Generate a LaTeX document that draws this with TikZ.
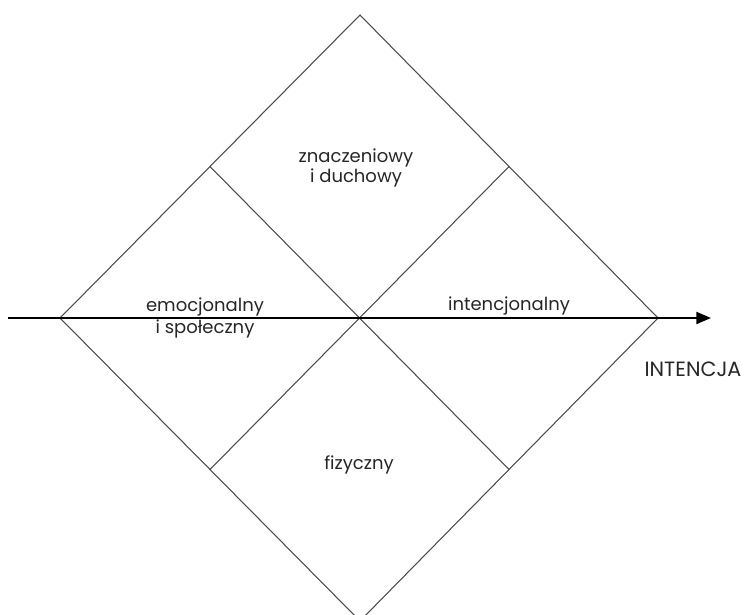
\documentclass[tikz,border=0pt]{standalone}
\usepackage{fontspec}
\setmainfont{Poppins}
\usetikzlibrary{arrows.meta}
\begin{document}
\begin{tikzpicture}[x=0.75pt,y=-0.75pt,
  frame/.style={draw=black!70,line width=0.8pt},
  axis/.style={draw=black,line width=1.5pt,-{Triangle[length=11pt,width=9pt]}},
  lbl/.style={font=\fontsize{13.5pt}{16pt}\selectfont,inner sep=0pt,anchor=base,text=black!85},
  axlbl/.style={font=\fontsize{15.5pt}{18pt}\selectfont,inner sep=0pt,anchor=base,text=black!85}]
\useasboundingbox (0,0) rectangle (745,614);
\clip (0,0) rectangle (745,614);
% outer diamond
\coordinate (T) at (360,15);
\coordinate (L) at (60,318);
\coordinate (R) at (658,318);
\coordinate (B) at (360,621);
% edge midpoints
\path (T) -- (L) coordinate[pos=0.5] (mTL);
\path (T) -- (R) coordinate[pos=0.5] (mTR);
\path (B) -- (L) coordinate[pos=0.5] (mBL);
\path (B) -- (R) coordinate[pos=0.5] (mBR);
\draw[frame] (T) -- (R) -- (B) -- (L) -- cycle;
\draw[frame] (mTL) -- (mBR);
\draw[frame] (mTR) -- (mBL);
% horizontal axis
\coordinate (A0) at (8,318);
\coordinate (A1) at (711,318);
\draw[axis] (A0) -- (A1);
% region labels
\node[lbl] (sensA) at (356,162) {znaczeniowy};
\node[lbl] (sensB) at (356,182) {i duchowy};
\node[lbl] (emoA) at (205,311) {emocjonalny};
\node[lbl] (emoB) at (205,333) {i społeczny};
\node[lbl] (int) at (509,310) {intencjonalny};
\node[lbl] (fiz) at (359,469) {fizyczny};
\node[axlbl] (ax) at (693,376) {INTENCJA};
\end{tikzpicture}
\end{document}
